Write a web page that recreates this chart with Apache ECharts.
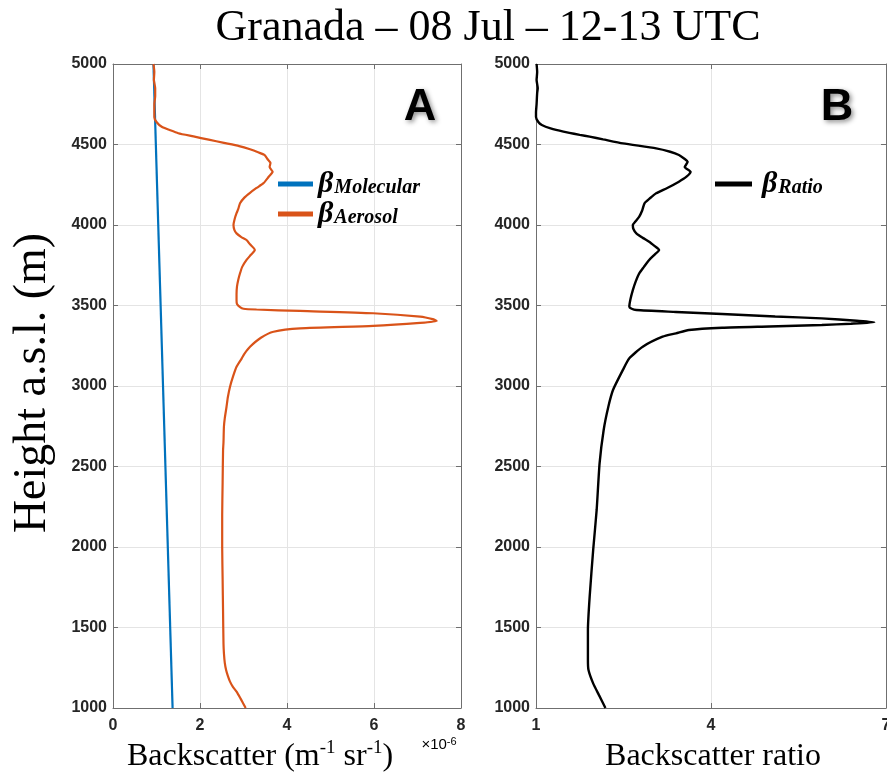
<!DOCTYPE html>
<html>
<head>
<meta charset="utf-8">
<script src="https://cdn.jsdelivr.net/npm/echarts@6/dist/echarts.min.js"></script>
<style>html,body{margin:0;padding:0;background:#fff}#c{width:887px;height:776px}</style>
</head>
<body>
<div id="c"></div>
<script>
// ---- Data ----
const heightTicks = [1000, 1500, 2000, 2500, 3000, 3500, 4000, 4500, 5000];
const backscatterTicks = [0, 2, 4, 6, 8];
const ratioTicks = [1, 4, 7];

// Molecular backscatter (x1e-6 m^-1 sr^-1), straight line
const molecularHeight = [1000, 5000];
const molecularBackscatter = [1.37, 0.93];

// Aerosol backscatter (x1e-6 m^-1 sr^-1)
const aerosolHeight = [5000, 4950, 4900, 4850, 4800, 4750, 4700, 4670, 4640, 4610, 4590, 4570, 4550, 4530, 4510, 4490, 4470, 4450, 4435, 4410, 4385, 4360, 4330, 4300, 4260, 4230, 4200, 4170, 4135, 4100, 4073, 4040, 4000, 3970, 3948, 3925, 3907, 3880, 3845, 3815, 3783, 3740, 3700, 3660, 3617, 3570, 3534, 3510, 3490, 3480, 3475, 3466, 3452, 3431, 3415, 3404, 3392, 3373, 3358, 3337, 3300, 3244, 3200, 3172, 3120, 3060, 2996, 2930, 2871, 2800, 2747, 2650, 2600, 2400, 2200, 2000, 1800, 1600, 1400, 1340, 1280, 1236, 1200, 1164, 1130, 1102, 1060, 1030, 1000];
const aerosolBackscatter = [0.93, 0.95, 0.94, 0.97, 0.97, 0.95, 0.95, 0.95, 1.00, 1.12, 1.30, 1.50, 1.85, 2.20, 2.55, 2.90, 3.15, 3.35, 3.48, 3.55, 3.62, 3.60, 3.67, 3.58, 3.46, 3.30, 3.15, 3.02, 2.92, 2.88, 2.84, 2.80, 2.77, 2.79, 2.84, 2.95, 3.07, 3.15, 3.26, 3.17, 3.07, 2.97, 2.92, 2.88, 2.85, 2.84, 2.84, 2.85, 2.92, 3.00, 3.30, 4.30, 5.98, 7.06, 7.35, 7.44, 7.06, 5.98, 4.30, 3.69, 3.40, 3.15, 3.02, 2.96, 2.84, 2.76, 2.69, 2.64, 2.61, 2.57, 2.55, 2.54, 2.53, 2.52, 2.51, 2.51, 2.52, 2.53, 2.54, 2.55, 2.57, 2.60, 2.64, 2.69, 2.76, 2.84, 2.93, 2.99, 3.05];

// Backscatter ratio
const ratioHeight = [5000, 4950, 4900, 4850, 4820, 4750, 4700, 4671, 4640, 4621, 4600, 4580, 4560, 4549, 4532, 4507, 4476, 4455, 4435, 4410, 4393, 4360, 4331, 4300, 4269, 4230, 4197, 4165, 4135, 4090, 4052, 4020, 4000, 3975, 3948, 3920, 3896, 3870, 3845, 3815, 3783, 3740, 3700, 3650, 3596, 3540, 3493, 3480, 3472, 3460, 3447, 3432, 3420, 3405, 3396, 3387, 3379, 3370, 3362, 3348, 3327, 3306, 3244, 3172, 3100, 2975, 2871, 2727, 2520, 2230, 1981, 1692, 1485, 1300, 1236, 1153, 1080, 1000];
const ratioValue = [1.01, 1.02, 1.01, 1.03, 1.02, 1.01, 1.00, 1.00, 1.04, 1.10, 1.25, 1.47, 1.75, 1.92, 2.15, 2.49, 3.06, 3.30, 3.45, 3.55, 3.60, 3.55, 3.65, 3.58, 3.45, 3.25, 3.06, 2.95, 2.86, 2.82, 2.77, 2.70, 2.66, 2.67, 2.72, 2.83, 2.94, 3.03, 3.11, 3.03, 2.94, 2.85, 2.77, 2.71, 2.66, 2.62, 2.60, 2.64, 2.72, 3.40, 4.19, 5.10, 5.90, 6.50, 6.80, 6.40, 5.90, 5.00, 4.19, 3.62, 3.40, 3.17, 2.83, 2.60, 2.49, 2.32, 2.24, 2.16, 2.09, 2.04, 1.98, 1.92, 1.89, 1.89, 1.90, 1.98, 2.08, 2.19];

// ---- Chart ----
const pairs = (xs, ys) => xs.map((x, i) => [x, ys[i]]);
const chart = echarts.init(document.getElementById('c'), null, {renderer: 'canvas'});

const AX = '#6f6f6f';
const GRID = '#e4e4e4';
const LBL = {color: '#262626', fontFamily: 'Liberation Sans', fontWeight: 'bold', fontSize: 16, formatter: v => String(v)};

function xMain(grid, min, max, ticks) {
  return {
    type: 'value', gridIndex: grid, position: 'bottom', min: min, max: max,
    interval: ticks[1] - ticks[0],
    axisLine: {show: true, onZero: false, lineStyle: {color: AX, width: 1}},
    axisTick: {show: true, inside: true, length: 5, lineStyle: {color: AX}, customValues: ticks},
    axisLabel: Object.assign({margin: 10, customValues: ticks, hideOverlap: false}, LBL),
    splitLine: {show: true, lineStyle: {color: GRID, width: 1}}
  };
}
function xMirror(grid, min, max, ticks) {
  return {
    type: 'value', gridIndex: grid, position: 'top', min: min, max: max,
    interval: ticks[1] - ticks[0],
    axisLine: {show: true, onZero: false, lineStyle: {color: AX, width: 1}},
    axisTick: {show: true, inside: true, length: 5, lineStyle: {color: AX}, customValues: ticks},
    axisLabel: {show: false},
    splitLine: {show: false}
  };
}
function yMain(grid) {
  return {
    type: 'value', gridIndex: grid, position: 'left', min: 1000, max: 5000, interval: 500,
    axisLine: {show: true, onZero: false, lineStyle: {color: AX, width: 1}},
    axisTick: {show: true, inside: true, length: 5, lineStyle: {color: AX}, customValues: heightTicks},
    axisLabel: Object.assign({margin: 6, customValues: heightTicks}, LBL),
    splitLine: {show: true, lineStyle: {color: GRID, width: 1}}
  };
}
function yMirror(grid) {
  return {
    type: 'value', gridIndex: grid, position: 'right', min: 1000, max: 5000, interval: 500,
    axisLine: {show: true, onZero: false, lineStyle: {color: AX, width: 1}},
    axisTick: {show: true, inside: true, length: 5, lineStyle: {color: AX}, customValues: heightTicks},
    axisLabel: {show: false},
    splitLine: {show: false}
  };
}

const betaRich = {
  b: {fontFamily: 'Liberation Serif', fontStyle: 'italic', fontWeight: 'bold', fontSize: 30, color: '#000', lineHeight: 28},
  s: {fontFamily: 'Liberation Serif', fontStyle: 'italic', fontWeight: 'bold', fontSize: 20, color: '#000', verticalAlign: 'bottom', padding: [0, 0, 0, 1]}
};
const betaFormatter = name => '{b|β}{s|' + name + '}';

const option = {
  animation: false,
  backgroundColor: '#fff',
  grid: [
    {left: 113, top: 64, width: 348, height: 644, containLabel: false, outerBoundsMode: 'none'},
    {left: 536, top: 64, width: 350, height: 644, containLabel: false, outerBoundsMode: 'none'}
  ],
  xAxis: [
    xMain(0, 0, 8, backscatterTicks),
    xMirror(0, 0, 8, backscatterTicks),
    xMain(1, 1, 7, ratioTicks),
    xMirror(1, 1, 7, ratioTicks)
  ],
  yAxis: [yMain(0), yMirror(0), yMain(1), yMirror(1)],
  legend: [
    {
      data: ['Molecular', 'Aerosol'], orient: 'vertical', left: 278, top: 169,
      padding: 0, itemGap: 0, itemWidth: 35, itemHeight: 5, icon: 'rect',
      formatter: betaFormatter, textStyle: {rich: betaRich}, selectedMode: false
    },
    {
      data: ['Ratio'], orient: 'vertical', left: 715, top: 169,
      padding: 0, itemGap: 0, itemWidth: 37, itemHeight: 5, icon: 'rect',
      formatter: betaFormatter, textStyle: {rich: {b: Object.assign({}, betaRich.b, {padding: [0, 0, 0, 5]}), s: betaRich.s}}, selectedMode: false
    }
  ],
  series: [
    {name: 'Molecular', type: 'line', xAxisIndex: 0, yAxisIndex: 0, data: pairs(molecularBackscatter, molecularHeight),
      showSymbol: false, symbol: 'none', lineStyle: {color: '#0072BD', width: 2.2}, itemStyle: {color: '#0072BD'}},
    {name: 'Aerosol', type: 'line', xAxisIndex: 0, yAxisIndex: 0, data: pairs(aerosolBackscatter, aerosolHeight),
      showSymbol: false, symbol: 'none', smooth: 0.2, lineStyle: {color: '#D95319', width: 2.2}, itemStyle: {color: '#D95319'}},
    {name: 'Ratio', type: 'line', xAxisIndex: 2, yAxisIndex: 2, data: pairs(ratioValue, ratioHeight),
      showSymbol: false, symbol: 'none', smooth: 0.2, lineStyle: {color: '#000', width: 2.4}, itemStyle: {color: '#000'}}
  ],
  graphic: [
    {type: 'text', x: 488, y: 28, style: {text: 'Granada – 08 Jul – 12-13 UTC', font: '44px "Liberation Serif"', fill: '#000', align: 'center', verticalAlign: 'middle'}},
    {type: 'text', x: 33, y: 383, rotation: Math.PI / 2, style: {text: 'Height a.s.l. (m)', font: '46px "Liberation Serif"', fill: '#000', align: 'center', verticalAlign: 'middle'}},
    {type: 'text', x: 260, y: 757, style: {
      text: '{n|Backscatter (m}{s|-1}{n| sr}{s|-1}{n|)}', align: 'center', verticalAlign: 'middle',
      rich: {
        n: {fontFamily: 'Liberation Serif', fontSize: 32, fill: '#000', color: '#000', lineHeight: 36},
        s: {fontFamily: 'Liberation Serif', fontSize: 19, fill: '#000', color: '#000', verticalAlign: 'top'}
      }}},
    {type: 'text', x: 713, y: 757, style: {text: 'Backscatter ratio', font: '32px "Liberation Serif"', fill: '#000', align: 'center', verticalAlign: 'middle'}},
    {type: 'text', x: 439, y: 745, style: {
      text: '{n|×10}{s|-6}', align: 'center', verticalAlign: 'middle',
      rich: {
        n: {fontFamily: 'Liberation Sans', fontSize: 15, color: '#262626', lineHeight: 18},
        s: {fontFamily: 'Liberation Sans', fontSize: 11, color: '#262626', verticalAlign: 'top'}
      }}},
    {type: 'text', x: 420, y: 108, style: {text: 'A', font: 'bold 45px "Liberation Sans"', fill: '#000', align: 'center', verticalAlign: 'middle',
      textShadowColor: 'rgba(0,0,0,0.45)', textShadowBlur: 5, textShadowOffsetX: 2, textShadowOffsetY: 2}},
    {type: 'text', x: 837, y: 108, style: {text: 'B', font: 'bold 45px "Liberation Sans"', fill: '#000', align: 'center', verticalAlign: 'middle',
      textShadowColor: 'rgba(0,0,0,0.45)', textShadowBlur: 5, textShadowOffsetX: 2, textShadowOffsetY: 2}}
  ]
};
chart.setOption(option);
</script>
</body>
</html>
